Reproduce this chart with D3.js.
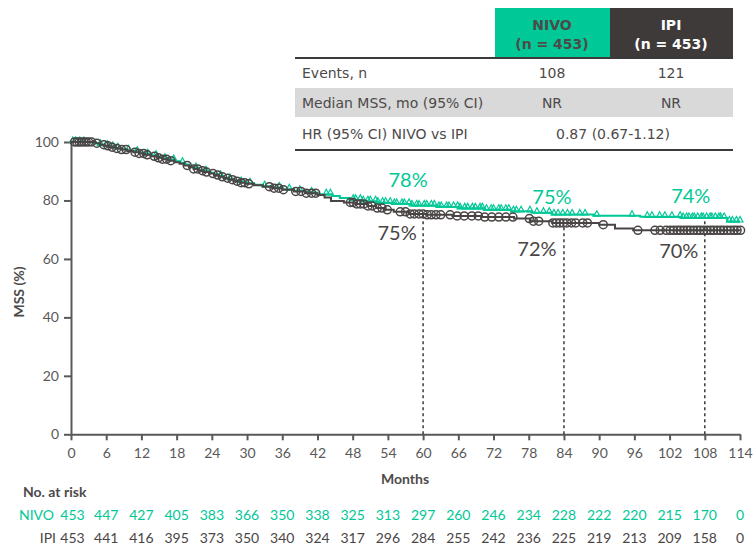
<!DOCTYPE html>
<html>
<head>
<meta charset="utf-8">
<script src="https://cdn.jsdelivr.net/npm/d3@7"></script>
<style>
  body { margin: 0; background: #fff; }
  svg { display: block; }
</style>
</head>
<body>
<svg id="chart" width="755" height="545"></svg>
<script>
// ---- Data -------------------------------------------------------------
const arms = ["NIVO", "IPI"];
const armN = [453, 453];
const events = ["108", "121"];
const medianMSS = ["NR", "NR"];
const hazardRatio = "0.87 (0.67-1.12)";

const xTicks = [0, 6, 12, 18, 24, 30, 36, 42, 48, 54, 60, 66, 72, 78, 84, 90, 96, 102, 108, 114];
const yTicks = [0, 20, 40, 60, 80, 100];

// Kaplan-Meier steps: [month, MSS % after the step]
const nivoSteps = [
  [0, 100], [3.8, 99.6], [4.6, 99.1], [5.4, 98.7], [6.4, 98.3], [7.4, 97.9], [8.5, 97.5],
  [9.6, 97.1], [10.7, 96.7], [11.8, 96.3], [12.8, 95.8], [13.8, 95.3], [14.8, 94.8],
  [15.8, 94.3], [16.8, 93.8], [17.8, 93.4], [18.6, 92.9], [19.4, 92.3], [20.2, 91.7],
  [21.0, 91.1], [21.8, 90.5], [22.7, 90.0], [23.6, 89.5], [24.4, 89.0], [25.2, 88.4],
  [26.0, 87.8], [26.9, 87.3], [27.8, 86.8], [28.8, 86.3], [29.8, 85.9], [31.2, 85.4],
  [32.7, 84.9], [34.3, 84.4], [36.0, 83.8], [38.0, 83.3], [40.0, 82.7], [42.0, 82.1],
  [44.5, 81.5], [45.8, 80.8], [47.5, 80.2], [49.5, 79.7], [52.0, 79.2], [55.0, 78.8],
  [58.0, 78.3], [62.5, 77.8], [66.0, 77.3], [70.5, 76.8], [75.0, 76.3], [78.5, 75.8],
  [82.0, 75.2], [89.0, 74.8], [97.0, 74.4], [104.0, 74.0], [111.8, 72.8]
];
const ipiSteps = [
  [0, 100], [4.2, 99.6], [4.9, 99.1], [5.7, 98.7], [6.6, 98.2], [7.6, 97.8], [8.6, 97.4],
  [9.6, 96.9], [10.6, 96.5], [11.6, 96.1], [12.6, 95.6], [13.6, 95.1], [14.6, 94.6],
  [15.6, 94.1], [16.6, 93.6], [17.6, 93.1], [18.5, 92.6], [19.3, 92.0], [20.1, 91.4],
  [20.9, 90.8], [21.7, 90.2], [22.6, 89.7], [23.5, 89.2], [24.4, 88.7], [25.2, 88.1],
  [26.0, 87.6], [26.9, 87.1], [27.8, 86.6], [28.8, 86.1], [29.8, 85.7], [31.2, 85.2],
  [32.7, 84.7], [34.3, 84.2], [36.0, 83.7], [38.0, 83.1], [40.0, 82.5], [42.0, 81.9],
  [43.2, 81.0], [44.3, 79.8], [46.5, 79.3], [48.5, 78.8], [50.5, 78.1], [52.0, 77.4],
  [53.5, 76.8], [55.0, 76.1], [57.5, 75.4], [60.5, 75.1], [65.0, 74.7], [70.0, 74.3],
  [75.5, 73.8], [78.3, 72.9], [82.0, 72.3], [90.0, 71.7], [92.7, 70.4], [95.8, 69.8]
];

// Censoring times (months)
const nivoCensor = [
  0.3, 0.8, 1.5, 2.2, 5.0, 6.2, 7.1, 8.0, 9.8, 11.3, 13.1, 14.5, 16.0, 17.5, 19.0, 21.3,
  23.0, 25.5, 27.1, 29.0, 30.5, 33.0, 35.5, 37.2, 39.0, 41.0, 43.5, 44.2,
  48.1, 48.5, 49.3, 49.8, 50.6, 51.0, 51.9, 52.3, 53.1, 53.6, 54.4, 55.1, 55.5, 56.4,
  56.8, 57.6, 58.1, 58.9, 59.3, 60.2, 60.6, 61.4, 61.9, 62.7, 63.1, 64.0, 64.4, 65.2,
  65.9, 66.3, 67.1, 67.6, 68.4, 68.9, 69.7, 70.1, 70.8, 71.6, 72.0, 72.9, 73.3, 74.1,
  74.6, 75.4, 75.9, 76.7, 78.2, 79.4, 80.5, 81.5, 82.3, 83.0, 83.8, 84.6, 85.4, 86.7,
  87.6, 89.6, 95.6, 98.2, 99.0, 100.3, 101.2, 102.4, 103.8, 104.3, 104.9, 105.3, 105.9,
  106.2, 106.8, 107.4, 107.7, 108.3, 108.9, 109.2, 109.8, 110.4, 110.7, 111.3, 112.2,
  112.7, 113.4, 114.0
];
const ipiCensor = [
  0.6, 1.0, 1.4, 1.8, 2.2, 2.6, 3.0, 3.5, 4.4, 5.6, 6.3, 7.0, 7.8, 8.6, 9.4, 10.9, 11.6,
  12.4, 13.0, 14.2, 14.9, 15.6, 16.3, 17.0, 19.8, 20.9, 21.6, 22.4, 23.1, 24.2, 25.0,
  25.8, 26.7, 27.5, 28.3, 29.0, 29.6, 30.3, 33.8, 34.6, 35.4, 36.2, 38.3, 39.2, 40.1,
  41.0, 41.7, 47.6, 48.1, 48.7, 49.3, 49.9, 50.6, 51.3, 52.2, 53.0, 53.9, 56.1, 57.0,
  57.8, 58.5, 59.3, 60.0, 60.7, 61.4, 62.2, 63.0, 64.6, 65.8, 67.0, 68.3, 69.4, 70.5,
  71.7, 72.9, 74.1, 75.3, 78.1, 78.8, 79.7, 82.1, 82.7, 83.3, 83.9, 84.5, 85.3, 86.0,
  87.2, 88.0, 90.7, 96.6, 99.5, 100.4, 101.4, 102.1, 102.7, 103.3, 103.8, 104.4, 105.0,
  105.5, 106.1, 106.7, 107.2, 107.8, 108.4, 109.0, 109.5, 110.1, 110.7, 111.2, 111.8,
  112.4, 113.0, 113.5, 114.1
];

// Landmark rates
const landmarks = [60, 84, 108];
const nivoLandmark = [78, 75, 74];
const ipiLandmark = [75, 72, 70];

// Number at risk
const nivoAtRisk = [453, 447, 427, 405, 383, 366, 350, 338, 325, 313, 297, 260, 246, 234, 228, 222, 220, 215, 170, 0];
const ipiAtRisk = [453, 441, 416, 395, 373, 350, 340, 324, 317, 296, 284, 255, 242, 236, 225, 219, 213, 209, 158, 0];

// ---- Styles -----------------------------------------------------------
const GREEN = "#00c896";
const DARK = "#4a4545";
const HEAD_DARK = "#3e3a3a";
const AXIS = "#595959";
const TXT = "#4d4a4a";
const SANS = "Lato, 'Open Sans', sans-serif";
const TABLE_FONT = "'DejaVu Sans', Verdana, sans-serif";

const svg = d3.select("#chart");

const x = d3.scaleLinear().domain([0, 114]).range([71, 740]);
const y = d3.scaleLinear().domain([0, 100]).range([434.3, 142]);

function survAt(steps, t) {
  let v = steps[0][1];
  for (const s of steps) { if (s[0] <= t) v = s[1]; else break; }
  return v;
}

// ---- Summary table ----------------------------------------------------
const tbl = svg.append("g").attr("font-family", TABLE_FONT).attr("font-size", 14);
const colX = [552, 671];
const headFill = [GREEN, HEAD_DARK];
const headText = [TXT, "#ffffff"];
const headLeft = [495, 610];
const headRight = [610, 733];

arms.forEach((a, i) => {
  tbl.append("rect").attr("x", headLeft[i]).attr("y", 8)
    .attr("width", headRight[i] - headLeft[i]).attr("height", 49).attr("fill", headFill[i]);
  tbl.append("text").attr("x", colX[i]).attr("y", 30).attr("text-anchor", "middle")
    .attr("font-weight", "bold").attr("fill", headText[i]).text(a);
  tbl.append("text").attr("x", colX[i]).attr("y", 49).attr("text-anchor", "middle")
    .attr("font-weight", "bold").attr("fill", headText[i]).text(`(n = ${armN[i]})`);
});
tbl.append("rect").attr("x", 295).attr("y", 88).attr("width", 438).attr("height", 29).attr("fill", "#d9d9d9");
tbl.append("line").attr("x1", 295).attr("x2", 733).attr("y1", 58).attr("y2", 58)
  .attr("stroke", "#3a3a3a").attr("stroke-width", 2);
tbl.append("line").attr("x1", 295).attr("x2", 733).attr("y1", 150).attr("y2", 150)
  .attr("stroke", "#3a3a3a").attr("stroke-width", 2);

const rowLabels = ["Events, n", "Median MSS, mo (95% CI)", "HR (95% CI) NIVO vs IPI"];
const rowY = [78, 108, 139];
rowLabels.forEach((r, i) => {
  tbl.append("text").attr("x", 302).attr("y", rowY[i]).attr("fill", TXT).text(r);
});
[events, medianMSS].forEach((vals, r) => {
  vals.forEach((v, i) => {
    tbl.append("text").attr("x", colX[i]).attr("y", rowY[r]).attr("text-anchor", "middle")
      .attr("fill", TXT).text(v);
  });
});
tbl.append("text").attr("x", 613).attr("y", rowY[2]).attr("text-anchor", "middle")
  .attr("fill", TXT).text(hazardRatio);

// ---- Axes -------------------------------------------------------------
const xAxis = svg.append("g").attr("transform", `translate(0,${y(0)})`)
  .call(d3.axisBottom(x).tickValues(xTicks).tickSize(6).tickSizeOuter(0).tickPadding(5));
const yAxis = svg.append("g").attr("transform", `translate(${x(0)},0)`)
  .call(d3.axisLeft(y).tickValues(yTicks).tickSize(7).tickSizeOuter(0).tickPadding(5));
[xAxis, yAxis].forEach(g => {
  g.select(".domain").attr("stroke", AXIS).attr("stroke-width", 2);
  g.selectAll(".tick line").attr("stroke", AXIS).attr("stroke-width", 2);
  g.selectAll(".tick text").attr("fill", AXIS).attr("font-family", SANS).attr("font-size", 14);
});
xAxis.selectAll(".tick text").attr("dy", "0.9em");

svg.append("text").attr("x", 405).attr("y", 484).attr("text-anchor", "middle")
  .attr("font-family", SANS).attr("font-size", 14).attr("font-weight", "bold")
  .attr("fill", TXT).text("Months");
svg.append("text").attr("transform", "translate(24,292) rotate(-90)").attr("text-anchor", "middle")
  .attr("font-family", SANS).attr("font-size", 14).attr("font-weight", "bold")
  .attr("fill", TXT).text("MSS (%)");

// ---- Landmark guides ---------------------------------------------------
const guideTop = [ipiLandmark[0], ipiLandmark[1], nivoLandmark[2]];
landmarks.forEach((m, i) => {
  svg.append("line").attr("x1", x(m)).attr("x2", x(m)).attr("y1", y(0)).attr("y2", y(guideTop[i]))
    .attr("stroke", "#3a3a3a").attr("stroke-width", 1.5).attr("stroke-dasharray", "3,3");
});

// ---- Curves -----------------------------------------------------------
const line = d3.line().x(d => x(d[0])).y(d => y(d[1])).curve(d3.curveStepAfter);

function drawArm(steps, censor, color, marker) {
  const endT = Math.max(steps[steps.length - 1][0], d3.max(censor));
  const pts = steps.concat([[endT, survAt(steps, endT)]]);
  svg.append("path").datum(pts).attr("d", line).attr("fill", "none")
    .attr("stroke", color).attr("stroke-width", 2);
  const g = svg.append("g");
  censor.forEach(t => {
    const cx = x(t), cy = y(survAt(steps, t));
    if (marker === "circle") {
      g.append("circle").attr("cx", cx).attr("cy", cy).attr("r", 4)
        .attr("fill", "none").attr("stroke", color).attr("stroke-width", 1.5);
    } else {
      g.append("path").attr("d", `M${cx - 3},${cy + 0.5}L${cx},${cy - 5}L${cx + 3},${cy + 0.5}Z`)
        .attr("fill", "none").attr("stroke", color).attr("stroke-width", 1.2);
    }
  });
}
drawArm(nivoSteps, nivoCensor, GREEN, "triangle");
drawArm(ipiSteps, ipiCensor, DARK, "circle");

// ---- Landmark labels --------------------------------------------------
const nivoLabelOffset = [[-15, -19], [-12, -11], [-14, -15]];
const ipiLabelOffset = [[-26, 25], [-27, 32], [-26, 28]];
landmarks.forEach((m, i) => {
  svg.append("text").attr("x", x(m) + nivoLabelOffset[i][0]).attr("y", y(nivoLandmark[i]) + nivoLabelOffset[i][1])
    .attr("text-anchor", "middle").attr("font-family", SANS).attr("font-size", 20)
    .attr("fill", GREEN).text(nivoLandmark[i] + "%");
  svg.append("text").attr("x", x(m) + ipiLabelOffset[i][0]).attr("y", y(ipiLandmark[i]) + ipiLabelOffset[i][1])
    .attr("text-anchor", "middle").attr("font-family", SANS).attr("font-size", 20)
    .attr("fill", DARK).text(ipiLandmark[i] + "%");
});

// ---- Number at risk ---------------------------------------------------
const risk = svg.append("g").attr("font-family", SANS).attr("font-size", 14);
risk.append("text").attr("x", 23).attr("y", 497).attr("font-weight", "bold").attr("fill", TXT).text("No. at risk");
const riskRows = [nivoAtRisk, ipiAtRisk];
const riskColor = [GREEN, DARK];
const riskY = [520, 543];
const riskLabelX = [54, 56];
arms.forEach((a, r) => {
  risk.append("text").attr("x", riskLabelX[r]).attr("y", riskY[r]).attr("text-anchor", "end")
    .attr("fill", riskColor[r]).text(a);
  riskRows[r].forEach((v, i) => {
    risk.append("text").attr("x", x(xTicks[i]) + (i === 0 ? 1.5 : 0)).attr("y", riskY[r])
      .attr("text-anchor", "middle").attr("fill", riskColor[r]).text(v);
  });
});
</script>
</body>
</html>
